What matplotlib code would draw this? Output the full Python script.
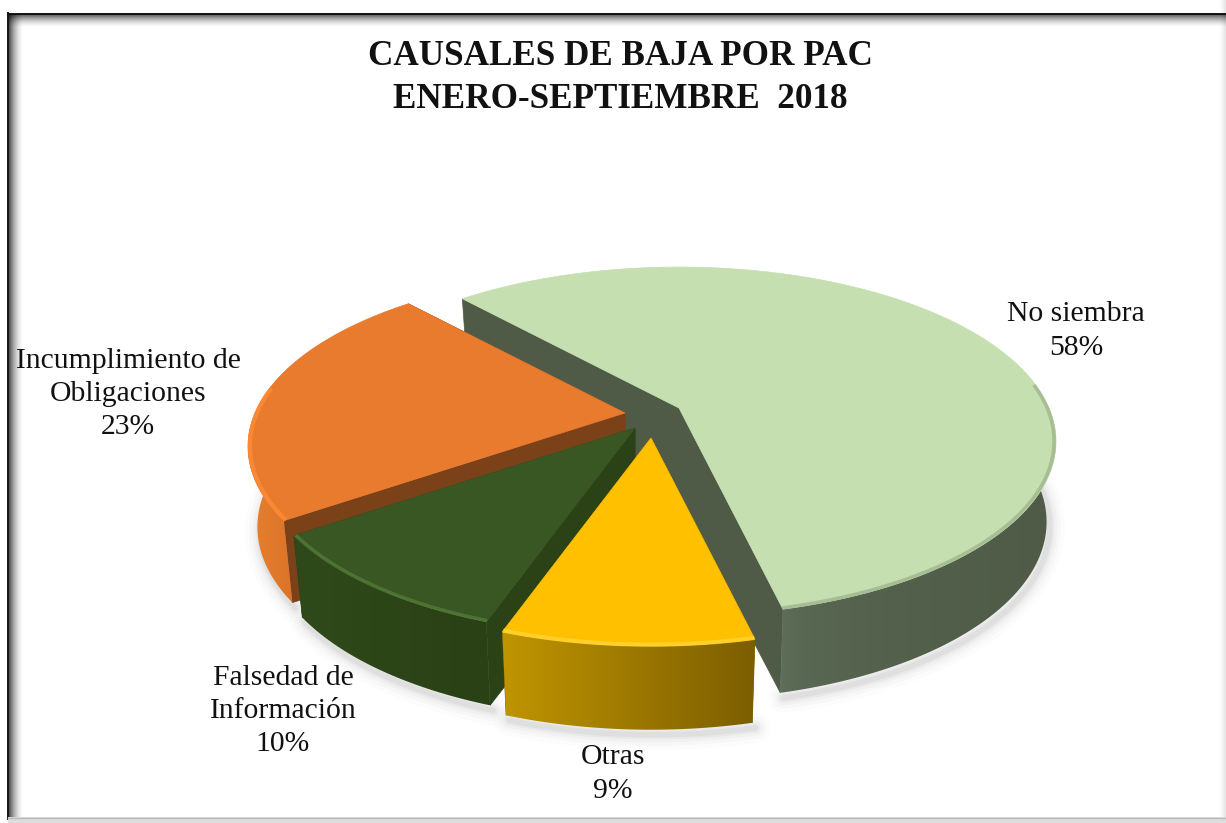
import numpy as np
import matplotlib
matplotlib.use("Agg")
import matplotlib.pyplot as plt
from matplotlib.patches import Polygon
from matplotlib.colors import to_rgb

title_lines = ["CAUSALES DE BAJA POR PAC", "ENERO-SEPTIEMBRE  2018"]
categories = ["No siembra", "Otras", "Falsedad de\nInformación", "Incumplimiento de\nObligaciones"]
percentages = [58, 9, 10, 23]

# style / geometry
W, H = 1226, 823
START = -42.0
RX, RY, PERSP = 370.0, 168.0, 0.192
DEPTH = 84.0
apexes = [(679, 408), (651, 438), (635, 428), (625, 413)]
top_colors = ["#C5DFB0", "#FFC000", "#385723", "#E97B2E"]
cut_colors = ["#4F5B47", "#7F6000", "#2A4216", "#7B4119"]
side_grads = [("#62745F", "#4F5B47"), ("#C09500", "#7C5E00"), ("#2F4A1A", "#2A4015"), ("#E8802F", "#DB7428")]
side_power = [0.3, 1.0, 1.0, 1.0]
rim_colors = ["#8FA37F", "#FFD534", "#55803A", "#FF8A35"]
rim_alpha = [0.55, 0.8, 0.7, 0.9]
rim_width = [2.5, 3.0, 2.5, 3.0]
draw_order = [0, 3, 2, 1]
label_xy = [(1076, 331), (613, 774), (283, 711), (128, 394)]

fig = plt.figure(figsize=(W / 100, H / 100), dpi=100, facecolor="white")
ax = fig.add_axes([0, 0, 1, 1])
ax.set_xlim(0, W)
ax.set_ylim(H, 0)
ax.axis("off")
plt.rcParams["font.family"] = ["Liberation Serif", "DejaVu Serif"]


def proj(theta, r, z, apex):
    u = r * np.sin(theta)
    v = -r * np.cos(theta)
    s = 1.0 / (1.0 - PERSP * v)
    k = 1.0 - 0.025 * z
    x = apex[0] + RX * u * s * k
    y = apex[1] + RY * v * s + DEPTH * z * (0.95 + 0.2 * (s - 1))
    return np.column_stack([x, y])


def grad_fill(poly, c0, c1, z, power=1.0):
    xmin, ymin = poly.min(axis=0)
    xmax, ymax = poly.max(axis=0)
    t = (np.linspace(0, 1, 256) ** power)[None, :, None]
    img = (1 - t) * np.array(to_rgb(c0))[None, None, :] + t * np.array(to_rgb(c1))[None, None, :]
    patch = Polygon(poly, closed=True, transform=ax.transData, fc="none", ec="none")
    ax.add_patch(patch)
    im = ax.imshow(img, extent=[xmin, xmax, ymax, ymin], aspect="auto", zorder=z, interpolation="bilinear")
    im.set_clip_path(patch)


def frame_gradient(extent, horizontal, reverse=False, strength=0.7):
    t = np.linspace(1, 0, 64) ** 1.8 * strength
    if reverse:
        t = t[::-1]
    a = t[None, :] if horizontal else t[:, None]
    rgba = np.zeros(a.shape + (4,))
    rgba[..., 3] = a
    ax.imshow(rgba, extent=extent, aspect="auto", zorder=1, interpolation="bilinear")


# slice angles from the values
fractions = np.array(percentages, dtype=float) / sum(percentages)
edges = START + 360.0 * np.concatenate([[0], np.cumsum(fractions)])

zc = 10
for i in draw_order:
    a0, a1 = np.radians(edges[i]), np.radians(edges[i + 1])
    th = np.linspace(a0, a1, 360)
    front = -np.cos(th) >= -0.02
    apex = apexes[i]
    top_arc = proj(th, 1.0, 0.0, apex)
    bot_arc = proj(th, 1.0, 1.0, apex)
    apex_top = proj(np.array([0.0]), 0.0, 0.0, apex)
    apex_bot = proj(np.array([0.0]), 0.0, 1.15, apex)

    # soft shadow under the outer wall
    shadow = bot_arc[front] + np.array([3, 5])
    for lw, al in [(22, 0.012), (16, 0.018), (11, 0.025), (7, 0.03), (4, 0.04)]:
        ax.plot(shadow[:, 0], shadow[:, 1], color="black", lw=lw, alpha=al, zorder=zc, solid_capstyle="round")
    zc += 1

    # radial cut faces
    for arc_i in (0, -1):
        quad = np.vstack([apex_top, top_arc[arc_i], bot_arc[arc_i], apex_bot])
        ax.add_patch(Polygon(quad, closed=True, fc=cut_colors[i], ec=cut_colors[i], lw=0.5, zorder=zc))
        zc += 1

    # outer wall, front-facing part only
    wall = np.vstack([top_arc[front], bot_arc[front][::-1]])
    grad_fill(wall, side_grads[i][0], side_grads[i][1], zc, side_power[i])
    zc += 1

    # top face
    top = np.vstack([apex_top, top_arc])
    ax.add_patch(Polygon(top, closed=True, fc=top_colors[i], ec=top_colors[i], lw=0.5, zorder=zc))
    zc += 1

    # bevel on the front rim
    rim = proj(th[-np.cos(th) > -0.15], 0.995, 0.0, apex)
    ax.plot(rim[:, 0], rim[:, 1], color=rim_colors[i], lw=rim_width[i], alpha=rim_alpha[i],
            zorder=zc, solid_capstyle="butt")
    zc += 1

# frame with inner shadow
frame_gradient([9, 24, 820, 14], True)
frame_gradient([9, W, 28, 14], False)
ax.plot([8.2, 8.2], [13, 819], color="#111111", lw=1.4, zorder=2)
ax.plot([8, W], [13.5, 13.5], color="#111111", lw=1.4, zorder=2)
frame_gradient([1218, W, 820, 0], True, reverse=True, strength=0.12)
ax.fill_between([8, W], 817, 823, color="#dddddd", lw=0, zorder=2)
ax.plot([8, W], [818, 818], color="#bbbbbb", lw=1, zorder=2)

ax.set_xlim(0, W)
ax.set_ylim(H, 0)

# text
ax.text(620, 78, "\n".join(title_lines), ha="center", va="center", fontsize=25.3, fontweight="bold",
        color="#111111", linespacing=1.39, zorder=200, family=["Liberation Serif", "DejaVu Serif"])
for i, (x, y) in enumerate(label_xy):
    ax.text(x, y, f"{categories[i]}\n{percentages[i]}%", ha="center", va="center", fontsize=21.3,
            color="#111111", linespacing=1.36, zorder=200, family=["Liberation Serif", "DejaVu Serif"])

fig.savefig("out.png", dpi=100)
